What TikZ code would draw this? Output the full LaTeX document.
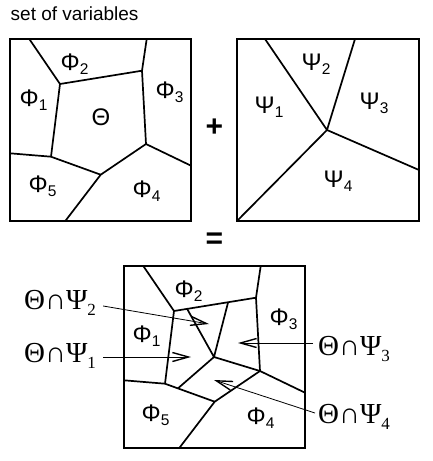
\documentclass[tikz,border=0pt]{standalone}
\usepackage{fontspec}
\setmainfont{Liberation Sans}
\newfontfamily\serifl{Liberation Serif}
\usetikzlibrary{arrows.meta,calc}

\newcommand{\gsub}[2]{#1\raisebox{-4pt}{\fontsize{15.5}{15.5}\selectfont #2}}
\newcommand{\isect}[1]{{\serifl\fontsize{29}{29}\selectfont Θ∩Ψ\raisebox{-6.5pt}{\fontsize{17}{17}\selectfont #1}}}

\tikzset{
  box/.style={line width=2.1pt},
  part/.style={line width=1.7pt, line join=round},
  conn/.style={line width=0.8pt, -{Straight Barb[length=16pt,width=9pt,line width=1.4pt]}},
  glab/.style={inner sep=0pt, anchor=base west, font=\fontsize{24}{24}\selectfont},
  ilab/.style={inner sep=0pt, anchor=base west},
  opsign/.style={inner sep=0pt, anchor=center, font=\fontsize{30}{30}\selectfont\bfseries}
}

\newcommand{\phipart}[1]{%
  \draw[box] (10,39) rectangle (191,221);
  \coordinate (#1a1) at (29.3,39);
  \coordinate (#1P1) at (60,84);
  \coordinate (#1a2) at (146.7,39);
  \coordinate (#1P2) at (142,70.7);
  \coordinate (#1P3) at (146,144);
  \coordinate (#1a3) at (191,165.7);
  \coordinate (#1P4) at (100.7,174.7);
  \coordinate (#1a4) at (65.3,221);
  \coordinate (#1P5) at (51,156.7);
  \coordinate (#1a5) at (10,153.3);
  \draw[part] (#1a1) -- (#1P1) -- (#1P2) -- (#1a2);
  \draw[part] (#1P2) -- (#1P3) -- (#1a3);
  \draw[part] (#1P3) -- (#1P4) -- (#1a4);
  \draw[part] (#1P4) -- (#1P5) -- (#1a5);
  \draw[part] (#1P5) -- (#1P1);
}

\begin{document}
\begin{tikzpicture}[x=1pt,y=-1pt]
\useasboundingbox (0,0) rectangle (433,461);

% title
\node[inner sep=0pt, anchor=base west, font=\fontsize{19}{19}\selectfont] (title) at (10.5,20) {set of variables};

% top-left partition
\phipart{A}
\node[glab] (A2) at (60.5,70) {\gsub{Φ}{2}};
\node[glab] (A1) at (19.5,106) {\gsub{Φ}{1}};
\node[glab] (Ath) at (91.5,125) {Θ};
\node[glab] (A3) at (155.5,98) {\gsub{Φ}{3}};
\node[glab] (A5) at (28.5,192) {\gsub{Φ}{5}};
\node[glab] (A4) at (132.5,197) {\gsub{Φ}{4}};

% plus
\node[opsign] (plus) at (214.5,128) {+};

% top-right partition
\draw[box] (237,39) rectangle (419,221);
\coordinate (b1) at (265,39);
\coordinate (b2) at (355,39);
\coordinate (Q) at (327,130);
\coordinate (b3) at (419,170);
\coordinate (b4) at (237,221);
\draw[part] (b1) -- (Q) -- (b2);
\draw[part] (b3) -- (Q) -- (b4);
\node[glab] (S2) at (301.5,70) {\gsub{Ψ}{2}};
\node[glab] (S1) at (254.5,113) {\gsub{Ψ}{1}};
\node[glab] (S3) at (359.5,109) {\gsub{Ψ}{3}};
\node[glab] (S4) at (323.5,187) {\gsub{Ψ}{4}};

% equals
\node[opsign] (eq) at (214.5,241) {=};

% bottom combined partition
\begin{scope}[shift={(114,227)}]
\phipart{B}
\end{scope}
\coordinate (c1) at ($(BP1)!0.16!(BP2)$);
\coordinate (c2) at ($(BP1)!0.66!(BP2)$);
\coordinate (C) at (214,357);
\coordinate (c4) at ($(BP5)!0.26!(BP4)$);
\draw[part] (c1) -- (C) -- (c2);
\draw[part] (c4) -- (C) -- (BP3);

\node[glab] (B2) at (174.5,297) {\gsub{Φ}{2}};
\node[glab] (B1) at (132.5,342) {\gsub{Φ}{1}};
\node[glab] (B3) at (269.5,325) {\gsub{Φ}{3}};
\node[glab] (B5) at (141.5,421) {\gsub{Φ}{5}};
\node[glab] (B4) at (246.5,424) {\gsub{Φ}{4}};

% intersection labels
\node[ilab] (L2) at (24,309) {\isect{2}};
\node[ilab] (L1) at (24,362) {\isect{1}};
\node[ilab] (L3) at (318,355) {\isect{3}};
\node[ilab] (L4) at (318,423) {\isect{4}};

\coordinate (t2) at (209,324);
\coordinate (t1) at (191,357);
\coordinate (t3) at (238,343);
\coordinate (t4) at (214,380);

\draw[conn] ($(L2.base east)+(7,-3)$) -- (t2);
\draw[conn] ($(L1.base east)+(7,-5)$) -- (t1);
\draw[conn] ($(L3.base west)+(-5,-12)$) -- (t3);
\draw[conn] ($(L4.base west)+(-3,-10)$) -- (t4);
\end{tikzpicture}
\end{document}
